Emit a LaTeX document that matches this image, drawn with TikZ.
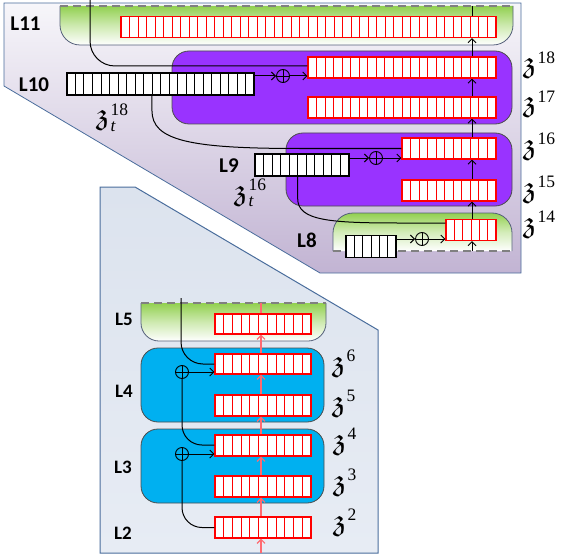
\RequirePackage{fix-cm}
\documentclass[tikz,border=0pt]{standalone}
\usepackage{amssymb}
\usepackage{fontspec}
\newfontfamily\labfont{Carlito}
\newfontfamily\numfont{Liberation Serif}
\usetikzlibrary{arrows.meta,calc}
\definecolor{lgreen}{HTML}{92D050}
\definecolor{ppurple}{HTML}{9933FF}
\definecolor{bblue}{HTML}{00B0F0}
\definecolor{ptop}{HTML}{F7F6FA}
\definecolor{pbot}{HTML}{C2B4D3}
\definecolor{btop}{HTML}{DCE3EE}
\definecolor{bbot}{HTML}{E7ECF4}
\definecolor{pedge}{HTML}{4A6D9C}
\definecolor{gedge}{HTML}{55607A}
\definecolor{salm}{HTML}{FF6A70}
\newcommand{\zz}{\scalebox{1.5}[1.3]{$\mathfrak{z}$}\kern1pt}
\newcommand{\zsup}[1]{\zz\raisebox{9.5pt}{\numfont\fontsize{17.5}{17.5}\selectfont #1}}
\newcommand{\ztsup}[1]{\zz\rlap{\raisebox{-6pt}{\numfont\itshape\fontsize{17.5}{17.5}\selectfont t}}\raisebox{9.5pt}{\numfont\fontsize{17.5}{17.5}\selectfont #1}}
\tikzset{
  cells/.style n args={2}{path picture={
    \foreach \k in {1,...,#1}{
      \draw[line width=1pt,draw=#2]
        ($(path picture bounding box.south west)!{\k/#1}!(path picture bounding box.south east)$) --
        ($(path picture bounding box.north west)!{\k/#1}!(path picture bounding box.north east)$);
    }}},
  rreg/.style={rectangle,draw=red,fill=white,line width=1.1pt,inner sep=0pt,minimum height=21pt,cells={#1}{red}},
  kreg/.style={rectangle,draw=black,fill=white,line width=1.1pt,inner sep=0pt,minimum height=22pt,cells={#1}{black}},
  pbox/.style={rectangle,rounded corners=17pt,fill=ppurple,draw=black!70,line width=0.8pt,inner sep=0pt},
  bbox/.style={rectangle,rounded corners=17pt,fill=bblue,draw=black!70,line width=0.8pt,inner sep=0pt},
  oplus/.style={circle,draw=black,line width=0.9pt,minimum size=13pt,inner sep=0pt,
    path picture={\draw[line width=0.9pt] (path picture bounding box.north) -- (path picture bounding box.south)
      (path picture bounding box.west) -- (path picture bounding box.east);}},
  arr/.style={-{Straight Barb[length=4pt,width=8pt]},line width=1pt,draw=black},
  parr/.style={-{Straight Barb[length=4pt,width=8pt]},line width=1.2pt,draw=salm},
  conn/.style={line width=1pt,draw=black},
  lab/.style={font=\labfont\bfseries\fontsize{21}{25}\selectfont,inner sep=0pt},
  labs/.style={font=\labfont\bfseries\fontsize{19}{23}\selectfont,inner sep=0pt},
  zl/.style={font=\fontsize{23}{27}\selectfont,inner sep=0pt},
  gdash/.style={draw=black!50,line width=1.5pt,dash pattern=on 8pt off 5pt},
  gside/.style={draw=gedge,line width=0.8pt},
}
\begin{document}
\begin{tikzpicture}[x=1pt,y=-1pt]
\useasboundingbox (0,0) rectangle (561,556);
% panels
\path[top color=ptop,bottom color=pbot,draw=pedge,line width=0.8pt]
  (4,3) -- (521,3) -- (521,273) -- (320,273) -- (4,86) -- cycle;
\path[top color=btop,bottom color=bbot,draw=pedge,line width=1pt]
  (100,187) -- (135,187) -- (378,330) -- (378,553) -- (100,553) -- cycle;
% green boxes
\path[top color=lgreen,bottom color=white,middle color=lgreen!45,rounded corners=20pt]
  (60,6) -- (60,45) -- (513,45) -- (513,6);
\draw[gside,rounded corners=20pt] (60,6) -- (60,45) -- (513,45) -- (513,6);
\draw[gdash] (60,6) -- (513,6);
\path[top color=lgreen,bottom color=white,middle color=lgreen!40,rounded corners=20pt]
  (333,251) -- (333,213) -- (512,213) -- (512,251);
\draw[gside,rounded corners=20pt] (333,251) -- (333,213) -- (512,213) -- (512,251);
\draw[gdash] (333,251) -- (512,251);
\path[top color=lgreen,bottom color=white,middle color=lgreen!45,rounded corners=18pt]
  (141,303) -- (141,341) -- (326,341) -- (326,303);
\draw[gside,rounded corners=18pt] (141,303) -- (141,341) -- (326,341) -- (326,303);
\draw[gdash] (141,303) -- (326,303);
% layer boxes
\node[pbox,minimum width=340pt,minimum height=73pt] (b10) at (342,87.5) {};
\node[pbox,minimum width=226pt,minimum height=73pt] (b9) at (399,169.5) {};
\node[bbox,minimum width=183pt,minimum height=74pt] (b4) at (232.5,385) {};
\node[bbox,minimum width=183pt,minimum height=74pt] (b3) at (232.5,466) {};
% registers top
\node[rreg=44,minimum width=375pt] (r11) at (308.5,27) {};
\node[rreg=22,minimum width=188pt] (r18) at (402,67.5) {};
\node[rreg=22,minimum width=188pt] (r17) at (402,107.5) {};
\node[kreg=22,minimum width=187pt] (t18) at (160.5,84) {};
\node[rreg=11,minimum width=94pt] (r16) at (449,148.5) {};
\node[rreg=11,minimum width=94pt] (r15) at (449,190.5) {};
\node[kreg=11,minimum width=94pt] (t16) at (302,165) {};
\node[rreg=6,minimum width=50pt] (r14) at (471,230) {};
\node[kreg=6,minimum width=50pt] (t14) at (371,246.5) {};
% registers bottom
\node[rreg=11,minimum width=96pt,minimum height=20pt] (p5) at (263,324) {};
\node[rreg=11,minimum width=96pt,minimum height=20pt] (z6) at (263,364) {};
\node[rreg=11,minimum width=96pt] (z5) at (263,405.5) {};
\node[rreg=11,minimum width=96pt] (z4) at (263,445.5) {};
\node[rreg=11,minimum width=96pt] (z3) at (263,486.5) {};
\node[rreg=11,minimum width=96pt] (z2) at (263,527.5) {};
% oplus
\node[oplus] (o10) at (283,76) {};
\node[oplus] (o9) at (376,158) {};
\node[oplus] (o8) at (422,239) {};
\node[oplus] (o4) at (182,372) {};
\node[oplus] (o3) at (182,454) {};
% adds
\draw[arr] (t18.east |- o10) -- (o10);
\draw[arr] (o10) -- (r18.west |- o10);
\draw[arr] (t16.east |- o9) -- (o9);
\draw[arr] (o9) -- (r16.west |- o9);
\draw[arr] (t14.east |- o8) -- (o8);
\draw[arr] (o8) -- (r14.west |- o8);
\draw[arr] (o4) -- (z6.west |- o4);
\draw[arr] (o3) -- (z4.west |- o3);
% skip lines
\coordinate (s11) at (90,0);
\draw[conn,rounded corners=25pt] (s11) |- ($(r18.west)+(0,-1.5)$);
\draw[conn] ($(t18.south west)!10/22!(t18.south east)$) -- ++(0,15)
  .. controls +(0,30) and +(-110,0) .. ($(r16.west)+(-102,0)$) -- (r16.west);
\draw[conn] ($(t16.south west)!5/11!(t16.south east)$) -- ++(0,22)
  .. controls +(0,22) and +(-70,0) .. ($(r14.west)+(-46,-7)$) -- ($(r14.west)+(0,-7)$);
\coordinate (s5) at (181,298);
\draw[conn,rounded corners=22pt] (s5) |- (z6.west);
\draw[conn,rounded corners=20pt] (o4) |- ($(z4.west)+(0,-0.5)$);
\draw[conn,rounded corners=20pt] (o3) |- (z2.west);
% vertical chain top
\coordinate (ax) at (472,0);
\coordinate (b8) at (472,251);
\coordinate (t11) at (472,6);
\draw[arr] (b8) -- (r14.south -| ax);
\draw[arr] (r14.north -| ax) -- (r15.south -| ax);
\draw[arr] (r15.north -| ax) -- (r16.south -| ax);
\draw[arr] (r16.north -| ax) -- (r17.south -| ax);
\draw[arr] (r17.north -| ax) -- (r18.south -| ax);
\draw[arr] (r18.north -| ax) -- (r11.south -| ax);
\draw[conn] (r11.north -| ax) -- (t11);
% vertical chain bottom
\coordinate (px) at (261,0);
\coordinate (pb) at (261,553);
\coordinate (pt) at (261,303);
\draw[parr] (pb) -- (z2.south -| px);
\draw[parr] (z2.north -| px) -- (z3.south -| px);
\draw[parr] (z3.north -| px) -- (z4.south -| px);
\draw[parr] (z4.north -| px) -- (z5.south -| px);
\draw[parr] (z5.north -| px) -- (z6.south -| px);
\draw[parr] (z6.north -| px) -- (p5.south -| px);
\draw[line width=1.2pt,draw=salm] (p5.north -| px) -- (pt);
% layer labels
\node[lab] (L11) at (25.5,23.5) {L11};
\node[lab] (L10) at (34,84.5) {L10};
\node[lab] (L9) at (229,165.5) {L9};
\node[lab] (L8) at (307,240) {L8};
\node[labs] (L5) at (124,319) {L5};
\node[labs] (L4) at (124,391) {L4};
\node[labs] (L3) at (123,467) {L3};
\node[labs] (L2) at (123,533) {L2};
% z labels
\node[zl,anchor=base west] (zl18) at (523,73) {\zsup{18}};
\node[zl,anchor=base west] (zl17) at (523,112) {\zsup{17}};
\node[zl,anchor=base west] (zl16) at (523,154) {\zsup{16}};
\node[zl,anchor=base west] (zl15) at (523,197) {\zsup{15}};
\node[zl,anchor=base west] (zl14) at (523,232) {\zsup{14}};
\node[zl,anchor=base west] (zl6) at (332,371) {\zsup{6}};
\node[zl,anchor=base west] (zl5) at (332,411) {\zsup{5}};
\node[zl,anchor=base west] (zl4) at (333,449) {\zsup{4}};
\node[zl,anchor=base west] (zl3) at (333,490) {\zsup{3}};
\node[zl,anchor=base west] (zl2) at (333,530) {\zsup{2}};
\node[zl,anchor=base west] (zt18) at (96,125) {\ztsup{18}};
\node[zl,anchor=base west] (zt16) at (234,200) {\ztsup{16}};
\end{tikzpicture}
\end{document}
